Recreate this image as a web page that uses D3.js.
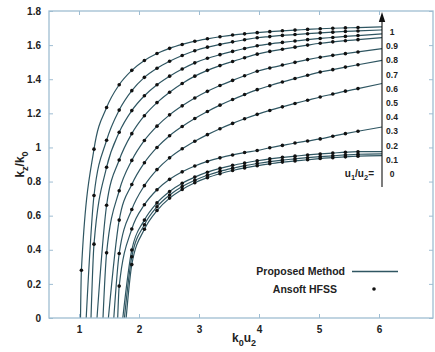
<!DOCTYPE html>
<html>
<head>
<meta charset="utf-8">
<script src="https://cdn.jsdelivr.net/npm/d3@7"></script>
<style>
  body { margin: 0; background: #fff; }
  svg { font-family: "Liberation Sans", Arial, sans-serif; }
</style>
</head>
<body>
<div id="chart"></div>
<script>
// u1/u2 ratio of each curve, top curve first
var ratios = [1, 0.9, 0.8, 0.7, 0.6, 0.5, 0.4, 0.3, 0.2, 0.1, 0];
var ratioLabels = ["1", "0.9", "0.8", "0.7", "0.6", "0.5", "0.4", "0.3", "0.2", "0.1", "0"];

// k0u2 where kz/k0 = 0 (cut-off), one per curve
var cutoff = [1.025, 1.12, 1.20, 1.30, 1.40, 1.49, 1.58, 1.645, 1.73, 1.757, 1.786];

// k0u2 sample points of the HFSS markers
var k0u2 = [1.04, 1.25, 1.46, 1.67, 1.88, 2.09, 2.30, 2.51, 2.72, 2.93, 3.14, 3.35,
            3.56, 3.76, 3.97, 4.18, 4.39, 4.60, 4.81, 5.02, 5.23, 5.44, 5.65];
var k0u2End = 6.05;

// kz/k0 at the k0u2 points (null = below cut-off)
var kz10 = [0.28, 0.99, 1.234, 1.368, 1.452, 1.510, 1.551, 1.581, 1.604, 1.623, 1.637, 1.649, 1.659, 1.666, 1.673, 1.679, 1.684, 1.688, 1.692, 1.696, 1.699, 1.701, 1.703];
var kz09 = [null, 0.718, 1.042, 1.219, 1.333, 1.411, 1.464, 1.505, 1.539, 1.567, 1.588, 1.604, 1.619, 1.631, 1.643, 1.650, 1.657, 1.662, 1.667, 1.672, 1.676, 1.680, 1.683];
var kz08 = [null, 0.433, 0.884, 1.089, 1.216, 1.303, 1.368, 1.418, 1.460, 1.496, 1.523, 1.544, 1.563, 1.580, 1.596, 1.607, 1.616, 1.624, 1.632, 1.639, 1.645, 1.651, 1.656];
var kz07 = [null, null, 0.661, 0.926, 1.081, 1.186, 1.263, 1.324, 1.375, 1.418, 1.452, 1.480, 1.504, 1.526, 1.547, 1.563, 1.576, 1.588, 1.600, 1.611, 1.619, 1.626, 1.632];
var kz06 = [null, null, 0.382, 0.746, 0.924, 1.041, 1.125, 1.191, 1.244, 1.290, 1.329, 1.363, 1.393, 1.420, 1.447, 1.466, 1.483, 1.499, 1.515, 1.529, 1.540, 1.550, 1.560];
var kz05 = [null, null, null, 0.574, 0.783, 0.910, 1.000, 1.069, 1.123, 1.170, 1.211, 1.248, 1.281, 1.310, 1.339, 1.362, 1.384, 1.404, 1.423, 1.442, 1.456, 1.471, 1.485];
var kz04 = [null, null, null, 0.378, 0.636, 0.776, 0.870, 0.939, 0.992, 1.036, 1.075, 1.110, 1.141, 1.168, 1.194, 1.217, 1.238, 1.258, 1.277, 1.296, 1.313, 1.330, 1.345];
var kz03 = [null, null, null, 0.187, 0.522, 0.664, 0.752, 0.813, 0.857, 0.891, 0.918, 0.939, 0.956, 0.970, 0.982, 0.998, 1.012, 1.026, 1.038, 1.050, 1.066, 1.081, 1.095];
var kz02 = [null, null, null, null, 0.399, 0.574, 0.675, 0.742, 0.790, 0.826, 0.855, 0.877, 0.895, 0.909, 0.922, 0.933, 0.942, 0.949, 0.956, 0.962, 0.967, 0.972, 0.975];
var kz01 = [null, null, null, null, 0.359, 0.547, 0.652, 0.721, 0.771, 0.808, 0.837, 0.860, 0.878, 0.893, 0.906, 0.917, 0.926, 0.933, 0.940, 0.946, 0.951, 0.956, 0.960];
var kz00 = [null, null, null, null, 0.313, 0.520, 0.630, 0.703, 0.754, 0.793, 0.823, 0.846, 0.865, 0.880, 0.893, 0.904, 0.914, 0.921, 0.928, 0.935, 0.940, 0.945, 0.949];

// kz/k0 where each line ends (at k0u2End)
var kzEnd = [1.707, 1.689, 1.666, 1.644, 1.579, 1.510, 1.375, 1.120, 0.975, 0.962, 0.952];

var xTicks = [1, 2, 3, 4, 5, 6];
var yTicks = [0, 0.2, 0.4, 0.6, 0.8, 1, 1.2, 1.4, 1.6, 1.8];

var width = 435, height = 352;
var margin = {top: 11, right: 2, bottom: 34, left: 49};
var axisColor = "#9fbdd2", lineColor = "#2f5662";

var svg = d3.select("#chart").append("svg")
    .attr("width", width)
    .attr("height", height);

var x = d3.scaleLinear().domain([0.5, 6.9]).range([margin.left, width - margin.right]);
var y = d3.scaleLinear().domain([0, 1.8]).range([height - margin.bottom, margin.top]);

/* Series */
var kzSets = [kz10, kz09, kz08, kz07, kz06, kz05, kz04, kz03, kz02, kz01, kz00];
var series = ratios.map(function(r, i){
    var markers = [];
    kzSets[i].forEach(function(v, j){ if (v !== null) markers.push([k0u2[j], v]); });
    var pts = [[cutoff[i], 0]].concat(markers, [[k0u2End, kzEnd[i]]]);
    return {ratio: r, line: pts, markers: markers};
});

var line = d3.line()
    .x(function(d){ return x(d[0]); })
    .y(function(d){ return y(d[1]); })
    .curve(d3.curveMonotoneX);

var plot = svg.append("g").attr("class", "plot");

plot.selectAll(".curve")
    .data(series)
    .enter()
    .append("path")
        .attr("class", "curve")
        .attr("fill", "none")
        .attr("stroke", lineColor)
        .attr("stroke-width", 1.2)
        .attr("d", function(d){ return line(d.line); });

plot.selectAll(".mk")
    .data(series)
    .enter()
    .append("g")
        .attr("class", "mk")
    .selectAll("circle")
    .data(function(d){ return d.markers; })
    .enter()
    .append("circle")
        .attr("cx", function(d){ return x(d[0]); })
        .attr("cy", function(d){ return y(d[1]); })
        .attr("r", 1.8)
        .attr("fill", "#111");

/* Axes (box with inward ticks) */
function styleAxis(g){
    g.select(".domain").remove();
    g.selectAll(".tick line").attr("stroke", axisColor);
    g.selectAll(".tick text")
        .attr("fill", "#222")
        .attr("font-size", "10px")
        .attr("font-weight", "bold")
        .attr("font-family", "Liberation Sans, Arial, sans-serif");
}
var x0 = x.range()[0], x1 = x.range()[1], y0 = y.range()[0], y1 = y.range()[1];

svg.append("g")
    .attr("transform", "translate(0," + y0 + ")")
    .call(d3.axisBottom(x).tickValues(xTicks).tickSizeInner(-4).tickSizeOuter(0).tickPadding(8).tickFormat(d3.format("d")))
    .call(styleAxis);
svg.append("g")
    .attr("transform", "translate(0," + y1 + ")")
    .call(d3.axisTop(x).tickValues(xTicks).tickSizeInner(-4).tickSizeOuter(0).tickFormat(""))
    .call(styleAxis);
svg.append("g")
    .attr("transform", "translate(" + x0 + ",0)")
    .call(d3.axisLeft(y).tickValues(yTicks).tickSizeInner(-4).tickSizeOuter(0).tickPadding(8).tickFormat(function(d){ return d3.format("~g")(d); }))
    .call(styleAxis);
svg.append("g")
    .attr("transform", "translate(" + x1 + ",0)")
    .call(d3.axisRight(y).tickValues(yTicks).tickSizeInner(-4).tickSizeOuter(0).tickFormat(""))
    .call(styleAxis);

svg.append("rect")
    .attr("x", x0).attr("y", y1)
    .attr("width", x1 - x0).attr("height", y0 - y1)
    .attr("fill", "none")
    .attr("stroke", axisColor)
    .attr("stroke-width", 1.3);

/* Axis titles */
var xt = svg.append("text")
    .attr("x", 232).attr("y", 342)
    .attr("font-size", "12px").attr("font-weight", "bold").attr("fill", "#222");
xt.append("tspan").text("k");
xt.append("tspan").attr("dy", 4).attr("font-size", "9px").text("0");
xt.append("tspan").attr("dy", -4).text("u");
xt.append("tspan").attr("dy", 4).attr("font-size", "9px").text("2");

var yt = svg.append("text")
    .attr("transform", "translate(24," + ((y0 + y1) / 2) + ") rotate(-90)")
    .attr("text-anchor", "middle")
    .attr("font-size", "12px").attr("font-weight", "bold").attr("fill", "#222");
yt.append("tspan").text("k");
yt.append("tspan").attr("dy", 4).attr("font-size", "9px").text("z");
yt.append("tspan").attr("dy", -4).text("/k");
yt.append("tspan").attr("dy", 4).attr("font-size", "9px").text("0");

/* Ratio arrow and labels */
var arrowX = x(k0u2End);
svg.append("line")
    .attr("x1", arrowX).attr("x2", arrowX)
    .attr("y1", 20).attr("y2", 187)
    .attr("stroke", "#111").attr("stroke-width", 1.1);
svg.append("path")
    .attr("d", "M" + arrowX + ",12 L" + (arrowX - 3.2) + ",22 L" + (arrowX + 3.2) + ",22 Z")
    .attr("fill", "#111");

var labelY = d3.scalePoint().domain(ratioLabels).range([32, 174]);
svg.selectAll(".rlab")
    .data(ratioLabels)
    .enter()
    .append("text")
        .attr("class", "rlab")
        .attr("x", 392)
        .attr("y", function(d){ return labelY(d) + 3; })
        .attr("text-anchor", "middle")
        .attr("font-size", "8.5px").attr("font-weight", "bold").attr("fill", "#222")
        .text(function(d){ return d; });

var ut = svg.append("text")
    .attr("x", 374).attr("y", 177)
    .attr("text-anchor", "end")
    .attr("font-size", "10px").attr("font-weight", "bold").attr("fill", "#222");
ut.append("tspan").text("u");
ut.append("tspan").attr("dy", 3).attr("font-size", "7.5px").text("1");
ut.append("tspan").attr("dy", -3).text("/u");
ut.append("tspan").attr("dy", 3).attr("font-size", "7.5px").text("2");
ut.append("tspan").attr("dy", -3).text("=");

/* Legend */
var legend = svg.append("g").attr("class", "legend");
legend.append("text")
    .attr("x", 345).attr("y", 275)
    .attr("text-anchor", "end")
    .attr("font-size", "10.5px").attr("font-weight", "bold").attr("fill", "#222")
    .text("Proposed Method");
legend.append("line")
    .attr("x1", 352).attr("x2", 398)
    .attr("y1", 271.5).attr("y2", 271.5)
    .attr("stroke", lineColor).attr("stroke-width", 1.3);
legend.append("text")
    .attr("x", 337).attr("y", 293)
    .attr("text-anchor", "end")
    .attr("font-size", "10.5px").attr("font-weight", "bold").attr("fill", "#222")
    .text("Ansoft HFSS");
legend.append("circle")
    .attr("cx", 374).attr("cy", 289)
    .attr("r", 1.8)
    .attr("fill", "#111");
</script>
</body>
</html>
